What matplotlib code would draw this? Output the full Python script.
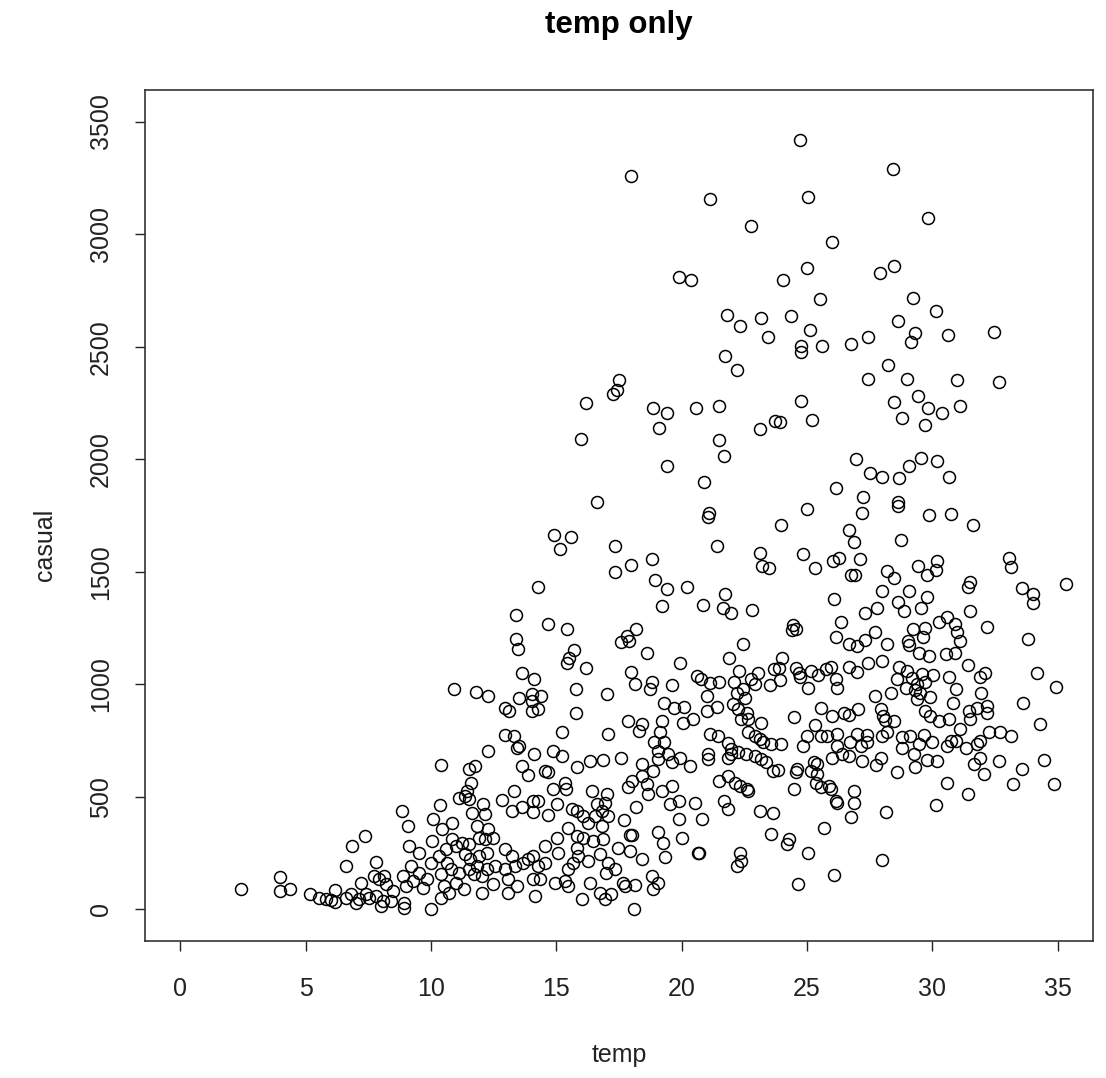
import matplotlib
matplotlib.use("Agg")
import matplotlib.pyplot as plt

plt.rcParams['font.family'] = ['Liberation Sans', 'DejaVu Sans']

# temp / casual values (approximate)
temp = [
    17.97, 21.13, 22.77, 19.88, 20.38,
    24.70, 28.41, 25.05, 29.84, 26.0, 24.98, 24.03, 27.92, 28.46, 25.5, 29.22,
    21.81, 22.31, 23.18, 23.46, 21.74, 22.22, 17.50, 17.43, 17.27, 16.18, 15.98,
    18.85, 19.42, 19.08, 20.58, 21.47, 23.12, 21.47, 21.69, 19.42, 20.87, 16.61,
    21.07, 23.74,
    30.12, 24.36, 28.62, 25.1, 29.3, 29.15, 30.6, 32.46, 24.77, 24.77, 25.61,
    26.76, 27.44, 28.21, 27.44, 28.97, 30.99, 32.67, 29.43, 28.46, 29.84, 30.39,
    31.08, 28.8, 29.71, 24.77, 23.92, 25.18, 26.96, 27.51, 28.0, 28.67, 29.08,
    29.56, 30.19, 30.67, 26.14, 27.24, 28.61, 28.61, 24.98, 27.17, 29.86, 30.73,
    23.96, 31.63, 26.68, 26.89, 28.75, 24.85, 25.33, 26.05, 26.27, 27.11, 26.75,
    26.91, 28.2, 28.47, 29.44, 30.19, 30.12, 29.78, 31.49, 31.42, 33.07, 33.15,
    35.33, 33.55, 34.02, 34.02, 26.07, 28.0, 29.08, 29.79, 28.61, 28.87, 29.56,
    27.78, 27.31, 31.49, 32.17, 26.34, 24.45, 24.54, 24.41, 26.14, 27.71, 27.31,
    26.67, 26.97, 28.2, 29.02, 29.05, 29.23, 29.72, 29.64, 30.25, 30.56, 30.89,
    30.96, 31.09, 29.46, 29.86, 30.53, 30.89, 33.81, 31.42, 32.11, 31.9, 34.16,
    34.91, 33.61, 34.3, 24.01, 23.88, 23.92, 24.54, 24.68, 24.72, 25.14, 25.45,
    25.74, 25.94, 26.14, 26.2, 25.04, 26.67, 26.97, 27.44, 28.0, 28.67, 28.59,
    28.93, 29.0, 29.2, 29.4, 29.5, 29.6, 29.3, 29.4, 29.7, 29.9, 30.03, 30.67,
    30.94, 30.81, 31.95, 27.71, 28.34, 25.54, 24.48, 25.32, 26.0, 26.47, 26.67,
    27.04, 27.93, 28.04, 28.09, 28.46, 29.72, 29.9, 30.25, 30.65, 31.45, 31.78,
    32.18, 32.18, 31.49,
    21.05, 14.89, 15.58, 15.16, 17.35, 21.4, 23.13, 23.21, 23.47, 18.8, 17.35,
    17.97, 18.93, 19.42, 20.23, 14.27, 21.74, 19.21, 20.86, 21.66, 21.96, 22.79,
    13.39, 14.68, 15.44, 13.39, 13.46, 18.17, 17.83, 17.91, 17.56, 18.6, 15.72,
    15.5, 15.42, 16.18, 13.65, 14.13, 11.8, 12.29, 13.51, 14.02, 14.38, 14.02,
    14.26, 14.05, 12.96, 13.11, 15.78, 15.78, 17.01, 19.95, 22.45, 21.88, 17.97,
    18.12, 18.8, 18.73, 19.62, 20.62, 20.76, 21.12, 21.48, 20.99, 21.0, 21.41,
    19.28, 19.7, 20.08, 22.09, 22.29, 22.75, 23.05, 22.91, 22.45, 22.51, 22.22,
    23.52, 23.68, 22.05, 22.25, 22.59, 22.35, 22.65, 23.18, 17.87, 18.4, 19.2,
    20.06, 20.46, 10.91,
    10.42, 2.42, 3.97, 3.97, 4.39, 5.19, 5.55, 5.81, 6.01, 6.18, 6.18, 6.61,
    6.86, 7.39, 7.81, 6.61, 6.81, 7.01, 7.14, 7.21, 7.41, 7.54, 7.81, 8.01,
    8.07, 8.4, 7.74, 7.94, 8.14, 8.2, 8.47, 8.84, 9.07, 9.13, 8.87, 9.0, 8.93,
    8.93, 9.2, 9.27, 9.53, 9.53, 9.67, 9.86, 10.0, 10.0, 10.09, 10.35, 10.06,
    10.46, 10.83, 11.12, 10.39, 10.33, 10.59, 10.66, 10.79, 10.86, 10.99, 10.53,
    10.72, 10.39, 10.99, 11.12,
    12.96, 13.33, 13.42, 13.51, 15.21, 17.07, 18.31, 19.13, 21.12, 21.43, 21.85,
    21.98, 21.98, 21.85, 22.25, 22.65, 22.91, 23.11, 23.25, 23.58, 22.91, 23.18,
    23.38, 23.64, 22.58, 21.05, 21.05, 21.48, 21.85, 22.12, 22.31, 22.62, 22.65,
    21.69, 21.85, 23.11, 23.64, 23.58, 22.31, 22.38, 22.22, 20.66, 20.70,
    18.89, 19.3, 19.06, 19.06, 19.46, 19.6, 19.92, 20.32, 18.4, 18.86, 18.4,
    18.0, 17.87, 18.6, 18.66, 19.2, 19.6, 19.55, 19.88, 20.52, 19.88, 20.79,
    20.0, 18.17, 17.7, 17.93, 18.02, 19.06, 19.26, 19.32, 18.4, 18.8, 19.06,
    18.87, 18.13, 17.67, 17.74, 18.11, 15.81, 16.34, 16.87, 17.58, 14.88, 15.24,
    14.13, 12.29, 13.62, 13.89, 14.55, 14.68, 11.5, 11.76, 11.6, 11.43, 11.36,
    11.5, 12.09, 11.63, 12.16, 11.83, 12.29, 11.9, 12.16, 12.49, 12.82, 13.33,
    13.22, 13.62, 14.09, 14.29, 14.09, 14.68, 15.01, 14.88, 15.34, 15.37, 16.41,
    17.01, 15.61, 15.81, 16.08, 16.28, 16.54, 16.81, 17.07, 16.61, 16.95, 16.81,
    15.48, 15.81, 16.08, 16.48, 16.87, 15.04, 11.23, 11.5, 11.36, 11.56, 11.9,
    12.23, 11.83, 11.5, 12.03, 11.7, 11.3, 12.03, 12.49, 12.23, 12.56, 12.96,
    13.22, 12.96, 13.35, 13.69, 13.89, 14.09, 14.29, 14.55, 14.55, 15.08, 13.09,
    13.42, 13.09, 14.09, 14.35, 14.15, 14.95, 15.35, 15.48, 15.68, 15.88, 15.81,
    16.28, 16.34, 15.48, 16.01, 16.74, 16.94, 17.2, 16.74, 17.07, 17.33, 17.0,
    17.47, 17.93,
    23.95, 24.85, 24.98, 25.54, 25.81, 26.2, 26.2, 26.0, 26.4, 26.67, 26.73,
    27.0, 27.13, 27.4, 27.4, 27.17, 27.73, 27.93, 28.0, 28.2, 28.59, 28.79,
    28.79, 29.12, 29.26, 29.3, 29.46, 29.66, 29.79, 29.99, 30.19, 30.59, 30.72,
    30.92, 31.09, 31.35, 31.65, 31.78, 31.91, 31.91, 32.05, 32.25, 32.64, 32.71,
    33.13, 33.56, 33.21, 34.44, 34.86, 30.59, 31.41, 30.12, 23.82, 24.54, 24.61,
    24.48, 25.27, 25.38, 25.14, 25.41, 25.34, 25.54, 25.87, 25.94, 26.14, 26.2,
    26.89, 26.89, 26.76, 28.13, 25.67, 24.28, 24.21, 25.04, 28.0, 26.07, 24.64,
]

casual = [
    3256, 3157, 3035, 2811, 2796,
    3416, 3287, 3164, 3072, 2965, 2850, 2796, 2829, 2858, 2711, 2715,
    2642, 2590, 2627, 2544, 2459, 2397, 2351, 2308, 2290, 2251, 2090,
    2229, 2207, 2137, 2229, 2237, 2136, 2084, 2015, 1968, 1900, 1808,
    1760, 2168,
    2658, 2636, 2612, 2573, 2560, 2520, 2551, 2566, 2502, 2478, 2502,
    2511, 2544, 2420, 2358, 2358, 2351, 2343, 2282, 2253, 2229, 2207,
    2236, 2183, 2152, 2259, 2167, 2174, 2001, 1938, 1923, 1916, 1969,
    2006, 1992, 1923, 1870, 1831, 1808, 1790, 1778, 1760, 1750, 1756,
    1708, 1708, 1686, 1631, 1640, 1578, 1517, 1548, 1563, 1555, 1486,
    1486, 1503, 1471, 1524, 1549, 1509, 1486, 1456, 1432, 1563, 1523,
    1447, 1426, 1400, 1361, 1379, 1416, 1416, 1386, 1364, 1324, 1340,
    1340, 1316, 1324, 1256, 1278, 1263, 1248, 1241, 1210, 1232, 1195,
    1180, 1171, 1178, 1193, 1174, 1248, 1249, 1210, 1278, 1298, 1267,
    1232, 1193, 1141, 1126, 1134, 1141, 1200, 1088, 1052, 1033, 1049,
    987, 918, 824, 1117, 1072, 1020, 1072, 1052, 1033, 1060, 1040,
    1067, 1079, 1025, 985, 985, 1079, 1055, 1095, 1103, 1079, 1025,
    985, 1060, 1030, 1000, 960, 1045, 975, 935, 1010, 945, 1040, 1033,
    978, 918, 963, 947, 963, 893, 855, 821, 859, 871, 864,
    889, 889, 859, 841, 837, 881, 859, 837, 845, 881, 896,
    904, 874, 845,
    1742, 1662, 1653, 1600, 1615, 1615, 1585, 1524, 1515, 1555, 1500,
    1532, 1463, 1425, 1432, 1431, 1401, 1347, 1353, 1340, 1316, 1331,
    1309, 1270, 1247, 1201, 1156, 1248, 1216, 1193, 1186, 1141, 1154,
    1119, 1097, 1072, 1051, 1025, 966, 948, 941, 956, 948, 926,
    889, 881, 896, 881, 980, 871, 956, 1095, 1180, 1116, 1057,
    1002, 1012, 981, 995, 1036, 1025, 1005, 1012, 948, 881, 901,
    918, 895, 901, 1011, 1058, 1025, 1052, 1000, 978, 941, 963,
    995, 1070, 911, 889, 874, 845, 845, 829, 837, 822, 837,
    829, 845, 978,
    642, 89, 146, 80, 89, 68, 52, 45, 41, 86, 33, 193,
    282, 326, 212, 52, 67, 30, 45, 116, 67, 52, 59, 15,
    37, 37, 148, 134, 148, 111, 81, 438, 371, 282, 148, 104, 30,
    7, 193, 126, 252, 163, 97, 134, 208, 4, 404, 466, 304,
    356, 383, 497, 156, 237, 267, 208, 178, 312, 282, 104,
    74, 52, 119, 163,
    775, 769, 716, 724, 790, 779, 794, 787, 779, 769, 739,
    712, 690, 675, 698, 787, 772, 757, 742, 735, 683, 668,
    653, 616, 690, 690, 668, 571, 593, 564, 549, 534, 527,
    482, 445, 438, 427, 334, 252, 215, 193, 252, 250,
    742, 742, 705, 668, 690, 653, 675, 638, 646, 616, 593,
    571, 542, 556, 512, 527, 549, 467, 482, 475, 404, 404,
    319, 457, 398, 330, 330, 344, 297, 235, 223, 148, 119,
    89, 107, 116, 104, 2, 635, 658, 665, 671, 705, 683,
    690, 702, 638, 596, 616, 611, 623, 638, 564, 527, 505,
    490, 467, 430, 423, 371, 356, 319, 312, 319, 487, 527,
    438, 453, 482, 482, 433, 419, 467, 534, 564, 534, 527,
    512, 445, 438, 415, 386, 415, 438, 415, 467, 475, 371,
    364, 326, 319, 304, 312, 319, 297, 289, 245, 223, 237,
    252, 193, 178, 148, 156, 89, 74, 111, 178, 193, 267,
    237, 178, 193, 208, 223, 237, 193, 208, 282, 252, 134,
    104, 74, 134, 134, 59, 119, 126, 178, 208, 237, 274,
    215, 119, 104, 45, 74, 45, 67, 245, 208, 178, 163,
    274, 260,
    735, 727, 772, 769, 772, 779, 727, 675, 690, 683, 745,
    779, 727, 742, 775, 658, 641, 675, 772, 790, 611, 765,
    716, 772, 690, 634, 735, 775, 665, 742, 658, 724, 748,
    748, 801, 717, 646, 735, 749, 675, 604, 790, 658, 790,
    772, 626, 558, 663, 558, 564, 511, 464, 620, 611, 626,
    534, 653, 646, 616, 601, 564, 542, 549, 537, 482, 472,
    527, 472, 411, 434, 364, 312, 289, 249, 219, 151, 113,
]

W, H = 1106, 1078
fig = plt.figure(figsize=(W / 100, H / 100), dpi=100)
ax = fig.add_axes([145 / W, 1 - 941 / H, 948 / W, 851 / H])

ax.plot(temp, casual, linestyle='none', marker='o', markersize=8.6,
        markerfacecolor='none', markeredgecolor='black', markeredgewidth=1.1)

ax.set_xlim(-1.4, 36.4)
ax.set_ylim(-140, 3640)
ax.set_xticks(range(0, 36, 5))
ax.set_yticks(range(0, 3501, 500))
ax.tick_params(axis='both', direction='out', length=7.2, width=1,
               labelsize=18, colors='#222222')
ax.tick_params(axis='x', pad=19)
ax.tick_params(axis='y', pad=16, labelrotation=90)
for lab in ax.get_yticklabels():
    lab.set_va('center')
for sp in ax.spines.values():
    sp.set_linewidth(1.2)
    sp.set_color('#333333')

fig.text(619 / W, 1 - 25 / H, 'temp only', ha='center', va='center',
         fontsize=22.5, fontweight='bold')
fig.text(619 / W, 1 - 1055 / H, 'temp', ha='center', va='center',
         fontsize=18, color='#222222')
fig.text(45 / W, 1 - 545 / H, 'casual', ha='center', va='center',
         fontsize=18, rotation=90, color='#222222')

fig.savefig('out.png', dpi=100)
